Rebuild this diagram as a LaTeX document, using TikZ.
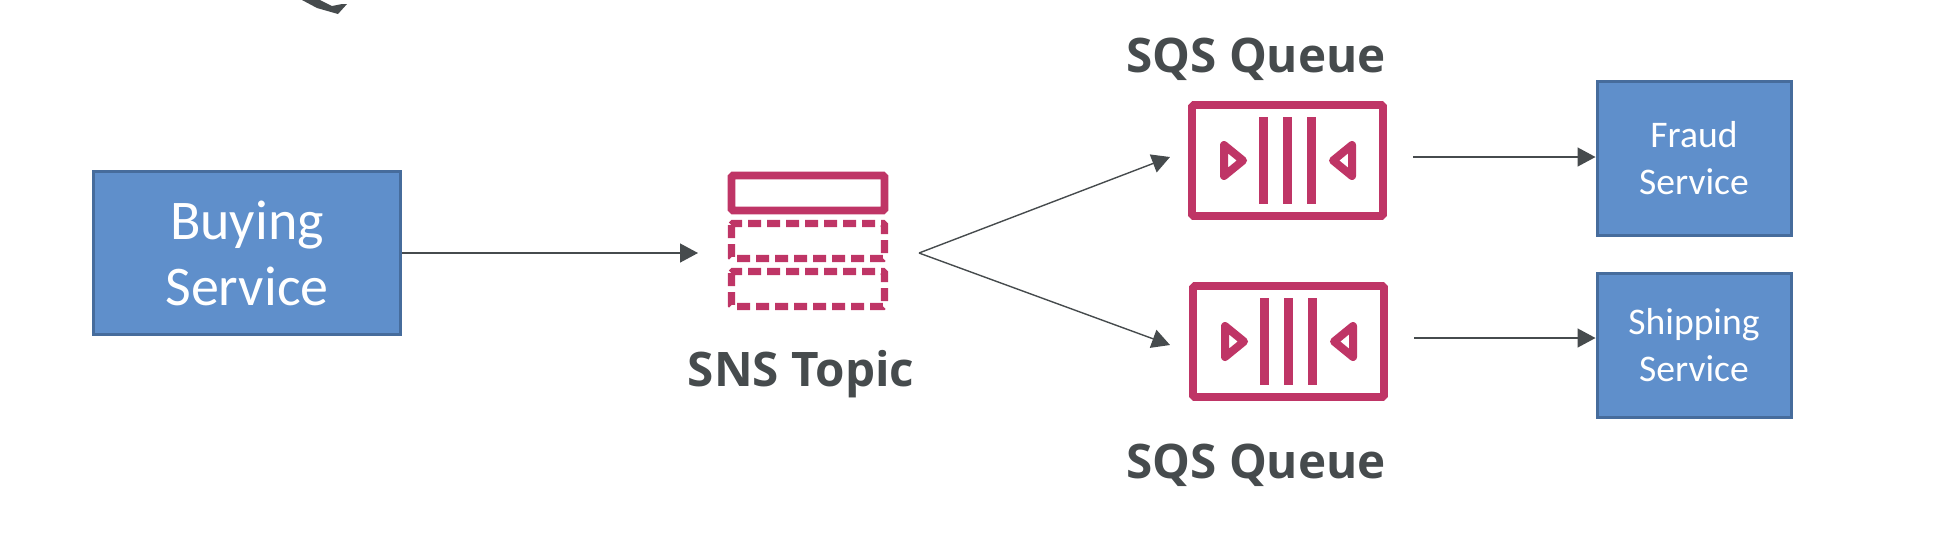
\documentclass[tikz,border=0pt]{standalone}
\usepackage{fontspec}
\setmainfont{Carlito}
\newfontfamily\labelfont{Open Sans}
\usetikzlibrary{positioning}
\usetikzlibrary{arrows.meta}
\definecolor{svcfill}{HTML}{5F8FCB}
\definecolor{svcedge}{HTML}{466C9C}
\definecolor{awspink}{HTML}{BF3566}
\definecolor{awsgray}{HTML}{464B4D}

\begin{document}
\begin{tikzpicture}[x=0.5pt,y=-0.5pt,
	service/.style={draw=svcedge,line width=1.5pt,fill=svcfill,text=white,align=center,inner sep=0pt},
	flow/.style={draw=awsgray,line width=0.7pt,-{Triangle[length=9pt,width=9.5pt,fill=awsgray]}},
	title/.style={text=awsgray,font=\labelfont\fontsize{23.8}{28}\selectfont\bfseries,inner sep=0pt,anchor=base},
	icon/.style={draw=awspink,line width=3.8pt,rounded corners=0.8pt},
	dashbox/.style={icon,line width=3.7pt,dash pattern=on 6.5pt off 3pt}]
\useasboundingbox (0,0) rectangle (1952,532);

%services
\node[service,minimum width=153.5pt,minimum height=81.5pt,font=\fontsize{28}{33}\selectfont] (buying) at (247,253) {Buying\\Service};
\node[service,minimum width=97pt,minimum height=77pt,font=\fontsize{18.8}{23.5}\selectfont] (fraud) at (1694,158) {Fraud\\Service};
\node[service,minimum width=97pt,minimum height=72pt,font=\fontsize{18.8}{23.5}\selectfont] (shipping) at (1694,345) {Shipping\\Service};

%topic icon
\node[minimum width=80pt,minimum height=69pt,inner sep=0pt,outer sep=15pt] (topic) at (808,241) {};
\draw[icon] (731.5,175.5) rectangle (884.5,210.5);
\draw[dashbox] (731.5,223.5) rectangle (884.5,258.5);
\draw[dashbox] (731.5,271.5) rectangle (884.5,306.5);
\node[title] (topiclabel) at (801,386) {SNS Topic};

%queue icons
\foreach\q/\c/\y in {qtop/1287.5/160.5,qbot/1288.5/341.5}{
	\node[icon,minimum width=95.5pt,minimum height=55.5pt,inner sep=0pt] (\q) at (\c,\y) {};
	\foreach\x in {-24,0,24}{
		\draw[awspink,line width=4.3pt] (\c+\x,\y-43.5) -- (\c+\x,\y+43.5);}
	\draw[awspink,line width=4pt,line join=round] (\c-63.5,\y-15.5) -- (\c-63.5,\y+15.5) -- (\c-44.5,\y) -- cycle;
	\draw[awspink,line width=4pt,line join=round] (\c+64.5,\y-15.5) -- (\c+64.5,\y+15.5) -- (\c+45.5,\y) -- cycle;
}
\node[title] (qtoplabel) at (1256,72) {SQS Queue};
\node[title] (qbotlabel) at (1256,478) {SQS Queue};

%connectors
\coordinate (fan) at (919,253);
\coordinate (qtopin) at (1170,157);
\coordinate (qbotin) at (1170,345);
\coordinate (qtopout) at (1413,157);
\coordinate (qbotout) at (1414,338);
\draw[flow] (buying.east) -- (buying.east -| topic.west);
\draw[flow] (fan) -- (qtopin);
\draw[flow] (fan) -- (qbotin);
\draw[flow] (qtopout) -- (qtopout -| fraud.west);
\draw[flow] (qbotout) -- (qbotout -| shipping.west);

%stray glyph tail
\fill[awsgray] (302,0) -- (317,8) -- (338,14) -- (347,4) -- (342,4) -- (332,6) -- (320,0) -- cycle;
\end{tikzpicture}
\end{document}
